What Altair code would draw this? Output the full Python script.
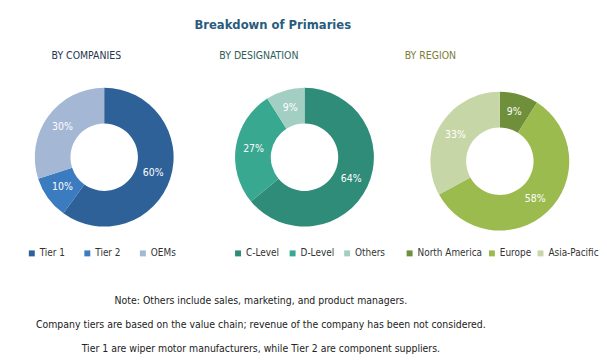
import altair as alt
import pandas as pd

# ---- data ----
company_cats = ["Tier 1", "Tier 2", "OEMs"]
company_vals = [60, 10, 30]
company_colors = ["#2f6199", "#3b7bbf", "#a4b7d5"]

design_cats = ["C-Level", "D-Level", "Others"]
design_vals = [64, 27, 9]
design_colors = ["#2e8c78", "#38a891", "#a3cfc3"]

region_cats = ["North America", "Europe", "Asia-Pacific"]
region_vals = [9, 58, 33]
region_colors = ["#6f8f3a", "#9bbb4f", "#c6d6a6"]

notes = [
    "Note: Others include sales, marketing, and product managers.",
    "Company tiers are based on the value chain; revenue of the company has been not considered.",
    "Tier 1 are wiper motor manufacturers,  while Tier 2 are component suppliers.",
]

NARROW = "DejaVu Sans Condensed"


def donut(cats, vals, colors, title, title_color, title_dx, leg_x, leg_pad, w, h, leg_y):
    df = pd.DataFrame({
        "cat": cats,
        "val": vals,
        "ord": list(range(len(cats))),
        "label": [f"{v}%" for v in vals],
    })
    base = alt.Chart(df).encode(
        theta=alt.Theta("val:Q", stack=True),
        order=alt.Order("ord:Q"),
    )
    arc = base.mark_arc(outerRadius=70, innerRadius=34).encode(
        color=alt.Color(
            "cat:N",
            scale=alt.Scale(domain=cats, range=colors),
            legend=alt.Legend(
                title=None,
                orient="none",
                legendX=leg_x,
                legendY=leg_y,
                direction="horizontal",
                symbolType="square",
                symbolSize=36,
                symbolStrokeWidth=0,
                labelFontSize=10,
                labelFont=NARROW,
                labelColor="#333333",
                labelOffset=3,
                columnPadding=leg_pad,
                padding=0,
            ),
        )
    )
    text = base.mark_text(radius=52, color="white", fontSize=10.5, font=NARROW).encode(
        text="label:N"
    )
    return (arc + text).properties(
        width=w,
        height=h,
        title=alt.TitleParams(
            title,
            color=title_color,
            fontSize=10.5,
            font=NARROW,
            fontWeight="normal",
            anchor="middle",
            dx=title_dx,
            offset=22,
        ),
    )


p1 = donut(company_cats, company_vals, company_colors, "BY COMPANIES", "#1f3550", -18, 19, 17, 194, 150, 167)
p2 = donut(design_cats, design_vals, design_colors, "BY DESIGNATION", "#2e5e5a", -46, 25, 8, 194, 150, 167)
p3 = donut(region_cats, region_vals, region_colors, "BY REGION", "#7c7d36", -70, -4, 4, 184, 158, 167)

notes_df = pd.DataFrame({"idx": list(range(len(notes))), "txt": notes})
notes_chart = alt.Chart(notes_df).mark_text(
    fontSize=10.5, font=NARROW, color="#222222", baseline="middle"
).encode(
    y=alt.Y("idx:O", axis=None, scale=alt.Scale(type="point", padding=0)),
    text="txt:N",
).properties(width=510, height=48)

panels = alt.hconcat(p1, p2, p3, spacing=8, bounds="flush").resolve_scale(
    color="independent"
).resolve_legend(color="independent")

chart = alt.vconcat(
    panels,
    notes_chart,
    spacing=38,
).properties(
    title=alt.TitleParams(
        "Breakdown of Primaries",
        color="#2a5c7f",
        fontSize=13,
        font=NARROW,
        fontWeight="bold",
        anchor="middle",
        dx=-31,
        offset=19,
    ),
    padding={"left": 0, "top": 9, "right": 0, "bottom": 0},
    background="white",
).configure_view(stroke=None)

chart.save("out.html", embed_options={"renderer": "svg", "actions": False})
